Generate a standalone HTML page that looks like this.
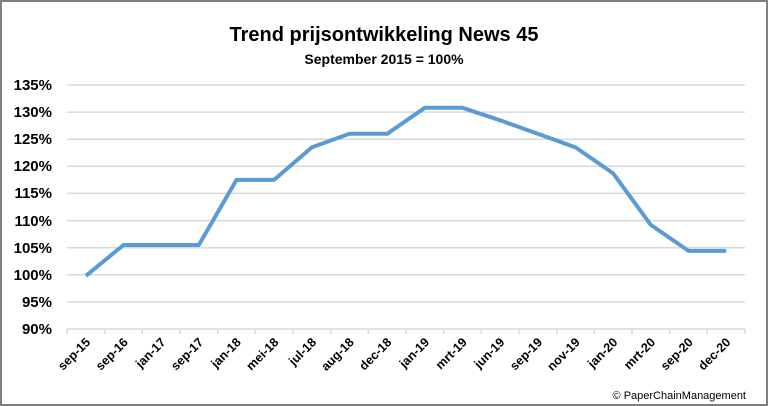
<!DOCTYPE html>
<html><head><meta charset="utf-8"><style>
html,body{margin:0;padding:0;background:#fff}
svg{display:block}
</style></head><body>
<svg width="768" height="406" xmlns="http://www.w3.org/2000/svg" font-family="Liberation Sans, sans-serif">
<rect x="1" y="1" width="766" height="404" fill="#fff" stroke="#7f7f7f" stroke-width="2"/>
<text x="384" y="41" text-anchor="middle" font-size="20" font-weight="bold" fill="#000">Trend prijsontwikkeling News 45</text>
<text x="384" y="64" text-anchor="middle" font-size="14" font-weight="bold" fill="#000">September 2015 = 100%</text>
<g stroke="#d9d9d9" stroke-width="1.5">
<line x1="67" x2="745" y1="85" y2="85"/>
<line x1="67" x2="745" y1="112.1" y2="112.1"/>
<line x1="67" x2="745" y1="139.2" y2="139.2"/>
<line x1="67" x2="745" y1="166.3" y2="166.3"/>
<line x1="67" x2="745" y1="193.4" y2="193.4"/>
<line x1="67" x2="745" y1="220.6" y2="220.6"/>
<line x1="67" x2="745" y1="247.7" y2="247.7"/>
<line x1="67" x2="745" y1="274.8" y2="274.8"/>
<line x1="67" x2="745" y1="301.9" y2="301.9"/>
<line x1="67" x2="745" y1="329" y2="329"/>
</g>
<g stroke="#d9d9d9" stroke-width="1.5">
<line x1="67" x2="67" y1="329" y2="334"/><line x1="104.7" x2="104.7" y1="329" y2="334"/><line x1="142.3" x2="142.3" y1="329" y2="334"/><line x1="180" x2="180" y1="329" y2="334"/><line x1="217.7" x2="217.7" y1="329" y2="334"/><line x1="255.3" x2="255.3" y1="329" y2="334"/><line x1="293" x2="293" y1="329" y2="334"/><line x1="330.7" x2="330.7" y1="329" y2="334"/><line x1="368.3" x2="368.3" y1="329" y2="334"/><line x1="406" x2="406" y1="329" y2="334"/><line x1="443.7" x2="443.7" y1="329" y2="334"/><line x1="481.3" x2="481.3" y1="329" y2="334"/><line x1="519" x2="519" y1="329" y2="334"/><line x1="556.7" x2="556.7" y1="329" y2="334"/><line x1="594.3" x2="594.3" y1="329" y2="334"/><line x1="632" x2="632" y1="329" y2="334"/><line x1="669.7" x2="669.7" y1="329" y2="334"/><line x1="707.3" x2="707.3" y1="329" y2="334"/><line x1="745" x2="745" y1="329" y2="334"/>
</g>
<g font-size="15" font-weight="bold" text-anchor="end" fill="#000">
<text x="52" y="90">135%</text><text x="52" y="117">130%</text><text x="52" y="144">125%</text><text x="52" y="171">120%</text><text x="52" y="198">115%</text><text x="52" y="226">110%</text><text x="52" y="253">105%</text><text x="52" y="280">100%</text><text x="52" y="307">95%</text><text x="52" y="334">90%</text>
</g>
<g font-size="12.5" font-weight="bold" text-anchor="end" fill="#000">
<text transform="translate(91,343) rotate(-45)">sep-15</text>
<text transform="translate(128.7,343) rotate(-45)">sep-16</text>
<text transform="translate(166.3,343) rotate(-45)">jan-17</text>
<text transform="translate(204,343) rotate(-45)">sep-17</text>
<text transform="translate(241.7,343) rotate(-45)">jan-18</text>
<text transform="translate(279.3,343) rotate(-45)">mei-18</text>
<text transform="translate(317,343) rotate(-45)">jul-18</text>
<text transform="translate(354.7,343) rotate(-45)">aug-18</text>
<text transform="translate(392.3,343) rotate(-45)">dec-18</text>
<text transform="translate(430,343) rotate(-45)">jan-19</text>
<text transform="translate(467.7,343) rotate(-45)">mrt-19</text>
<text transform="translate(505.3,343) rotate(-45)">jun-19</text>
<text transform="translate(543,343) rotate(-45)">sep-19</text>
<text transform="translate(580.7,343) rotate(-45)">nov-19</text>
<text transform="translate(618.3,343) rotate(-45)">jan-20</text>
<text transform="translate(656,343) rotate(-45)">mrt-20</text>
<text transform="translate(693.7,343) rotate(-45)">sep-20</text>
<text transform="translate(731.3,343) rotate(-45)">dec-20</text>
</g>
<polyline fill="none" stroke="#5b9bd5" stroke-width="4" stroke-linejoin="round" points="85.8,275.9 123.5,245 161.1,245 198.8,245 236.5,179.9 274.1,179.9 311.8,147.4 349.5,133.8 387.2,133.8 424.8,107.8 462.5,107.8 500.2,120.3 537.8,133.8 575.5,147.4 613.2,173.4 650.8,224.9 688.5,250.9 726.2,250.9"/>
<text x="746" y="399" text-anchor="end" font-size="11" fill="#000">© PaperChainManagement</text>
</svg>
</body></html>
